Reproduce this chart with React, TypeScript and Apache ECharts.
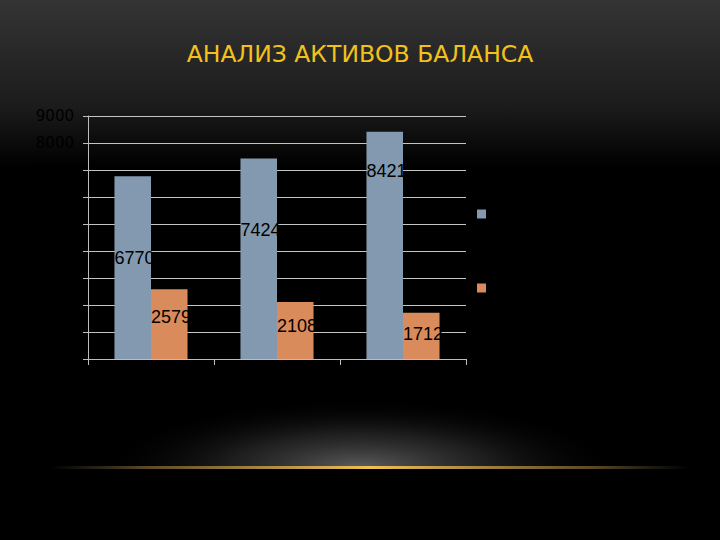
import React, { useEffect, useRef } from 'react';
import * as echarts from 'echarts';

const categories = ['2011', '2012', '2013'];
const seriesNames = ['Внеоборотные активы', 'Оборотные активы'];
const nonCurrentAssets = [6770, 7424, 8421];
const currentAssets = [2579, 2108, 1712];
// vertical label offsets inside each bar, px from bar top
const nonCurrentLabelDy = [73, 62, 30];
const currentLabelDy = [19, 15, 12];

const App: React.FC = () => {
  const chartRef = useRef<HTMLDivElement>(null);

  useEffect(() => {
    document.body.style.margin = '0';
    document.body.style.background = '#000';
    const myChart = echarts.init(chartRef.current!, undefined, { renderer: 'svg' });

    const labelStyle = {
      show: true,
      color: '#000',
      fontSize: 18,
      fontFamily: 'Liberation Sans, Arial, sans-serif',
    };

    const option = {
      animation: false,
      backgroundColor: {
        type: 'linear',
        x: 0, y: 0, x2: 0, y2: 1,
        colorStops: [
          { offset: 0, color: '#343434' },
          { offset: 0.2, color: '#1b1b1b' },
          { offset: 0.28, color: '#070707' },
          { offset: 0.31, color: '#000' },
          { offset: 1, color: '#000' },
        ],
      },
      title: {
        text: 'АНАЛИЗ АКТИВОВ БАЛАНСА',
        left: 'center',
        top: 37,
        textStyle: {
          color: '#f2c21a',
          fontSize: 23.5,
          fontWeight: 'normal',
          fontFamily: 'DejaVu Sans, sans-serif',
        },
      },
      legend: {
        orient: 'vertical',
        left: 472,
        top: 203,
        itemWidth: 9,
        itemHeight: 9,
        itemGap: 62,
        icon: 'rect',
        data: seriesNames,
        textStyle: { color: '#000', fontSize: 12 },
      },
      grid: {
        left: 88,
        right: 254,
        top: 116,
        bottom: 181,
        containLabel: false,
      },
      xAxis: {
        type: 'category',
        data: categories,
        axisLine: { lineStyle: { color: '#bdbdbd', width: 1 } },
        axisTick: { show: true, length: 6, lineStyle: { color: '#bdbdbd' } },
        axisLabel: { color: '#000', fontSize: 13 },
      },
      yAxis: {
        type: 'value',
        min: 0,
        max: 9000,
        interval: 1000,
        axisLine: { show: true, lineStyle: { color: '#bdbdbd', width: 1 } },
        axisTick: { show: true, length: 5, lineStyle: { color: '#bdbdbd' } },
        axisLabel: {
          color: '#000',
          fontSize: 15,
          margin: 14,
          fontFamily: 'DejaVu Sans, sans-serif',
          formatter: (v: number) => String(v),
        },
        splitLine: { lineStyle: { color: '#c4c4c4', width: 1 } },
      },
      series: [
        {
          name: seriesNames[0],
          type: 'bar',
          barGap: '0%',
          barCategoryGap: '42%',
          itemStyle: { color: '#8299af' },
          data: nonCurrentAssets.map((v, i) => ({
            value: v,
            label: { ...labelStyle, position: [0, nonCurrentLabelDy[i]] },
          })),
        },
        {
          name: seriesNames[1],
          type: 'bar',
          itemStyle: { color: '#d98b5b' },
          data: currentAssets.map((v, i) => ({
            value: v,
            label: { ...labelStyle, position: [0, currentLabelDy[i]] },
          })),
        },
      ],
      graphic: [
        {
          type: 'ellipse',
          shape: { cx: 360, cy: 468, rx: 260, ry: 70 },
          style: {
            fill: {
              type: 'radial',
              x: 0.5, y: 0.5, r: 0.5,
              colorStops: [
                { offset: 0, color: 'rgba(110,110,110,0.85)' },
                { offset: 0.5, color: 'rgba(60,60,60,0.5)' },
                { offset: 1, color: 'rgba(0,0,0,0)' },
              ],
            },
          },
          silent: true,
        },
        {
          type: 'rect',
          shape: { x: 0, y: 469, width: 720, height: 71 },
          style: { fill: '#000' },
          silent: true,
        },
        {
          type: 'rect',
          shape: { x: 50, y: 466, width: 640, height: 3 },
          style: {
            fill: {
              type: 'linear',
              x: 0, y: 0, x2: 1, y2: 0,
              colorStops: [
                { offset: 0, color: 'rgba(120,110,80,0)' },
                { offset: 0.15, color: 'rgba(150,120,60,0.6)' },
                { offset: 0.5, color: '#f0c050' },
                { offset: 0.85, color: 'rgba(150,120,60,0.6)' },
                { offset: 1, color: 'rgba(120,110,80,0)' },
              ],
            },
          },
          silent: true,
        },
      ],
    };

    myChart.setOption(option);

    return () => {
      myChart.dispose();
    };
  }, []);

  return <div ref={chartRef} style={{ width: '720px', height: '540px' }} />;
};

export default App;
